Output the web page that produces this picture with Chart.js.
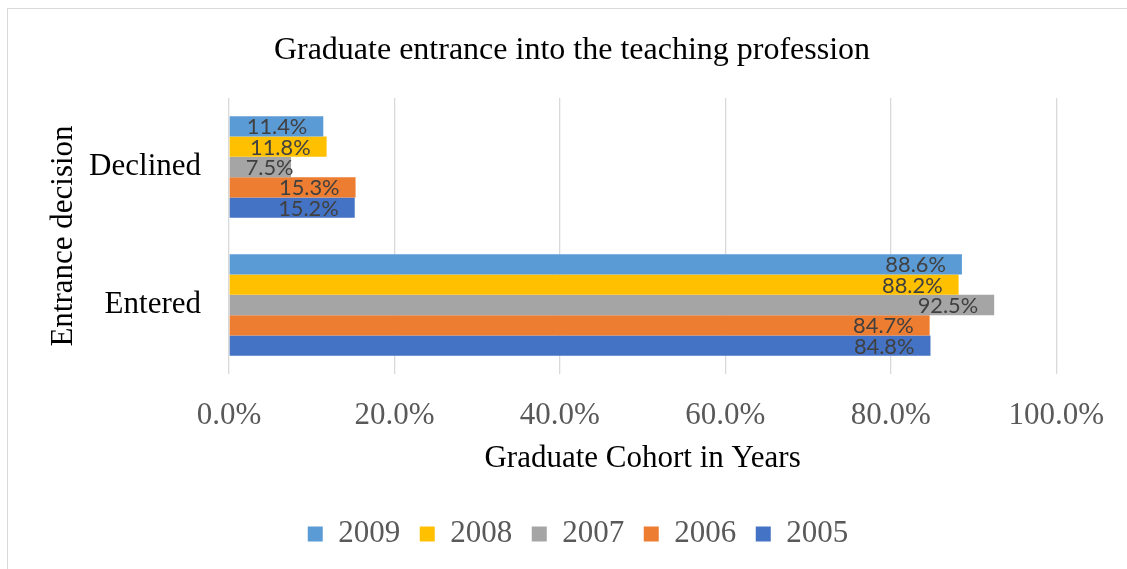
<!DOCTYPE html>
<html>
<head>
<meta charset="utf-8">
<script src="https://cdn.jsdelivr.net/npm/chart.js@4.4.1/dist/chart.umd.min.js"></script>
<style>
  html, body { margin: 0; padding: 0; background: #fff; }
  #wrap { width: 1127px; height: 569px; }
</style>
</head>
<body>
<div id="wrap"><canvas id="chart" width="1127" height="569"></canvas></div>
<script>
// Chart data (percent of cohort)
const categories = ['Declined', 'Entered'];
const seriesNames = ['2009', '2008', '2007', '2006', '2005'];
const values2009 = [11.4, 88.6];
const values2008 = [11.8, 88.2];
const values2007 = [7.5, 92.5];
const values2006 = [15.3, 84.7];
const values2005 = [15.2, 84.8];
const xTicks = [0, 20, 40, 60, 80, 100];

const colors = ['#5B9BD5', '#FFC000', '#A5A5A5', '#ED7D31', '#4472C4'];
const serif = '"Liberation Serif", "Times New Roman", serif';

// frame around the chart, like the office chart border
const framePlugin = {
    id: 'frame',
    beforeDraw(chart) {
        const ctx = chart.ctx;
        ctx.save();
        ctx.fillStyle = '#fff';
        ctx.fillRect(0, 0, chart.width, chart.height);
        ctx.strokeStyle = '#d9d9d9';
        ctx.lineWidth = 1;
        ctx.strokeRect(7.5, 8.5, chart.width + 20, chart.height + 20);
        ctx.restore();
    }
};

// title and legend are centred on the whole frame, not on the plot
const centerPlugin = {
    id: 'centerBlocks',
    afterLayout(chart) {
        if (chart.titleBlock) {
            chart.titleBlock.left = 0;
            chart.titleBlock.right = 1144;
        }
        if (chart.legend) {
            chart.legend.left = 0;
            chart.legend.right = 1156;
        }
    }
};

// value labels at the inside end of each bar
const labelPlugin = {
    id: 'barLabels',
    afterDatasetsDraw(chart) {
        const ctx = chart.ctx;
        ctx.save();
        ctx.font = '21.8px Lato, "Open Sans", sans-serif';
        ctx.fillStyle = '#404040';
        ctx.textBaseline = 'middle';
        ctx.textAlign = 'left';
        chart.data.datasets.forEach((ds, i) => {
            const meta = chart.getDatasetMeta(i);
            meta.data.forEach((bar, j) => {
                const text = ds.data[j].toFixed(1) + '%';
                const w = ctx.measureText(text).width;
                let left = bar.x - 16 - w;
                if (left < bar.base + 16) left = bar.base + 16;
                ctx.fillText(text, left, bar.y + 1);
            });
        });
        ctx.restore();
    }
};

const allValues = [values2009, values2008, values2007, values2006, values2005];

new Chart(document.getElementById('chart').getContext('2d'), {
    type: 'bar',
    data: {
        labels: categories,
        datasets: seriesNames.map((name, i) => ({
            label: name,
            data: allValues[i],
            backgroundColor: colors[i],
            borderWidth: 0,
            categoryPercentage: 0.735,
            barPercentage: 1
        }))
    },
    options: {
        indexAxis: 'y',
        responsive: false,
        animation: false,
        layout: { padding: { top: 0, right: 65, bottom: 9.5, left: 0 } },
        plugins: {
            title: {
                display: true,
                text: 'Graduate entrance into the teaching profession',
                color: '#000',
                font: { family: serif, size: 32, weight: 'normal' },
                padding: { top: 31.4, bottom: 28.2 }
            },
            legend: {
                position: 'bottom',
                labels: {
                    color: '#595959',
                    font: { family: serif, size: 31 },
                    boxWidth: 15,
                    boxHeight: 15,
                    padding: 19.5
                }
            },
            tooltip: { enabled: false }
        },
        scales: {
            x: {
                min: 0,
                max: 100,
                afterBuildTicks(scale) {
                    scale.ticks = xTicks.map(v => ({ value: v }));
                },
                afterFit(scale) { scale.height = 125; },
                grid: { color: '#d9d9d9', lineWidth: 1.3, drawTicks: false },
                border: { display: false },
                ticks: {
                    color: '#595959',
                    padding: 23,
                    font: { family: serif, size: 31 },
                    callback: v => v.toFixed(1) + '%'
                },
                title: {
                    display: true,
                    text: 'Graduate Cohort in Years',
                    color: '#000',
                    font: { family: serif, size: 31 },
                    padding: { top: 0, bottom: 21.4 }
                }
            },
            y: {
                afterFit(scale) { scale.width = 229; },
                grid: { display: false },
                border: { display: false },
                ticks: {
                    color: '#000',
                    padding: 20,
                    font: { family: serif, size: 31 }
                },
                title: {
                    display: true,
                    text: 'Entrance decision',
                    color: '#000',
                    font: { family: serif, size: 31 },
                    padding: { top: 45.4, bottom: 0 }
                }
            }
        }
    },
    plugins: [framePlugin, centerPlugin, labelPlugin]
});
</script>
</body>
</html>
